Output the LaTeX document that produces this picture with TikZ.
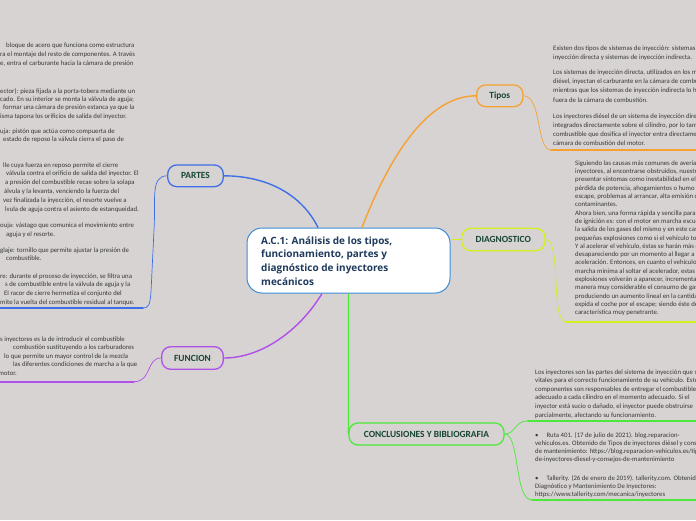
\documentclass[tikz,border=0pt]{standalone}
\usepackage{fontspec}
\setmainfont{Carlito}
\newfontfamily\osans{Open Sans}
\definecolor{bg}{HTML}{D7D3D2}
\definecolor{cblue}{HTML}{3F6FE8}
\definecolor{corange}{HTML}{F5A233}
\definecolor{cyellow}{HTML}{D5EE1F}
\definecolor{cpurple}{HTML}{B04FEA}
\definecolor{cgreen}{HTML}{4CE83A}
\definecolor{cmain}{HTML}{3A8ED8}
\definecolor{ttitle}{HTML}{1E3A5C}
\definecolor{thead}{HTML}{174536}
\definecolor{tbody}{HTML}{383838}
\newcommand\parablock[5]{\foreach \tline [count=\i] in {#5} {\node[txt] (#1-\i) at (#2,{#3+(\i-1)*#4}) {\tline};}}
\begin{document}
\begin{tikzpicture}[x=1pt,y=-1pt,
  txt/.style={font=\fontsize{6.75}{8}\selectfont, text=tbody, inner sep=0pt, anchor=base west},
  ttl/.style={font=\osans\fontsize{10}{12}\bfseries, text=ttitle, inner sep=0pt, anchor=base west},
  head/.style={line width=1.3pt, rounded corners=9pt, font=\fontsize{9.4}{11}\bfseries, text=thead, inner sep=0pt},
  mainbox/.style={draw=cmain, fill=white, line width=1pt, rounded corners=15pt, minimum width=203pt, minimum height=65pt},
  link/.style={line width=1.4pt},
  sub/.style={line width=0.7pt},
  uline/.style={line width=1.7pt, line cap=round}]
\fill[bg] (0,0) rectangle (696,520);
\useasboundingbox (0,0) rectangle (696,520);

% central
\node[mainbox] (root) at (348.5,260.5) {};
\node[ttl] (t1) at (261,244) {A.C.1: Análisis de los tipos,};
\node[ttl] (t2) at (261,257.5) {funcionamiento, partes y};
\node[ttl] (t3) at (261,271.2) {diagnóstico de inyectores};
\node[ttl] (t4) at (261,285) {mecánicos};

% headings
\node[head, draw=corange, minimum width=46.3pt, minimum height=21.7pt] (tipos) at (499.8,95.8) {Tipos};
\node[head, draw=cblue, minimum width=55.6pt, minimum height=21.7pt] (partes) at (195.5,175.8) {PARTES};
\node[head, draw=cpurple, minimum width=61.6pt, minimum height=22.6pt] (funcion) at (192.5,358) {FUNCION};
\node[head, draw=cyellow, minimum width=83.3pt, minimum height=22.4pt] (diag) at (503.3,239.5) {DIAGNOSTICO};
\node[head, draw=cgreen, minimum width=155pt, minimum height=22pt] (concl) at (426.5,434) {CONCLUSIONES Y BIBLIOGRAFIA};

% main connectors
\draw[link, corange] ([xshift=13.5pt]root.north) .. controls (392,150) and (430,96) .. (tipos.west);
\draw[link, cblue] ([xshift=-30.5pt]root.north) .. controls (302,195) and (268,176) .. (partes.east);
\draw[link, cpurple] ([xshift=-26.5pt]root.south) .. controls (300,330) and (262,358) .. (funcion.east);
\draw[link, cyellow] (diag.west -| root.east) -- (diag.west);
\draw[link, cgreen] (root.south) -- (348.5,418) .. controls (348.5,430) .. (concl.west);

% text anchors (underlines)
\coordinate (tiposU) at (551,150);
\coordinate (diagU) at (566,322);
\coordinate (partesU) at (143,308);
\coordinate (funcionU) at (134,381.7);
\coordinate (conclU) at (528,421);
\coordinate (biblioU) at (532,500);

\draw[sub, corange] (tipos.east) .. controls (542,96) and (536,150) .. (tiposU);
\draw[uline, corange] (tiposU) -- (700,150);
\draw[sub, cyellow] (diag.east) .. controls (562,240) and (550,322) .. (diagU);
\draw[uline, cyellow] (diagU) -- (700,322);
\draw[sub, cblue] (partes.west) .. controls (150,176) and (156,200) .. (154,230) -- (151,292) .. controls (150,306) and (148,308) .. (partesU);
\draw[uline, cblue] (partesU) -- (-5,308);
\draw[sub, cpurple] (funcion.west) .. controls (146,358) and (152,381.7) .. (funcionU);
\draw[uline, cpurple] (funcionU) -- (-5,381.7);
\draw[sub, cgreen] (concl.east) .. controls (516,434) and (514,421) .. (conclU);
\draw[uline, cgreen] (conclU) -- (700,421);
\draw[sub, cgreen] (concl.east) .. controls (520,434) and (514,500) .. (biblioU);
\draw[uline, cgreen] (biblioU) -- (700,500);

% Tipos text
\parablock{tp1}{553}{50.3}{9.3}{{Existen dos tipos de sistemas de inyección: sistemas de},{inyección directa y sistemas de inyección indirecta.}}
\parablock{tp2}{553}{74.7}{9.1}{{Los sistemas de inyección directa, utilizados en los motores},{diésel, inyectan el carburante en la cámara de combustión,},{mientras que los sistemas de inyección indirecta lo hacen},{fuera de la cámara de combustión.}}
\parablock{tp3}{553}{118.7}{8.9}{{Los inyectores diésel de un sistema de inyección directa están},{integrados directamente sobre el cilindro, por lo tanto, el},{combustible que dosifica el inyector entra directamente en la},{cámara de combustión del motor.}}

% Diagnostico text
\parablock{dg}{575}{165.3}{8.3}{{Siguiendo las causas más comunes de avería en los},{inyectores, al encontrarse obstruidos, nuestro coche puede},{presentar síntomas como inestabilidad en el ralentí,},{pérdida de potencia, ahogamientos o humo negro por el},{escape, problemas al arrancar, alta emisión de gases},{contaminantes.},{Ahora bien, una forma rápida y sencilla para detectar fallos},{de ignición es: con el motor en marcha escuchar},{la salida de los gases del mismo y en este caso se oirán},{pequeñas explosiones como si el vehículo tosiera.},{Y al acelerar el vehículo, éstas se harán más evidentes,},{desapareciendo por un momento al llegar a la máxima},{aceleración. Entonces, en cuanto el vehículo vuelva a su},{marcha mínima al soltar el acelerador, estas pequeñas},{explosiones volverán a aparecer, incrementando de},{manera muy considerable el consumo de gasolina y},{produciendo un aumento lineal en la cantidad de humo que},{expida el coche por el escape; siendo éste de una},{característica muy penetrante.}}

% Conclusiones text
\parablock{cc}{535}{374.3}{8.54}{{Los inyectores son las partes del sistema de inyección que son},{vitales para el correcto funcionamiento de su vehículo. Estos},{componentes son responsables de entregar el combustible},{adecuado a cada cilindro en el momento adecuado. Si el},{inyector está sucio o dañado, el inyector puede obstruirse},{parcialmente, afectando su funcionamiento.}}
\parablock{bb1}{535}{437}{8.1}{{•\hspace{8pt}Ruta 401. (17 de julio de 2021). blog.reparacion-},{vehiculos.es. Obtenido de Tipos de inyectores diésel y consejos},{de mantenimiento: https://blog.reparacion-vehiculos.es/tipos-},{de-inyectores-diesel-y-consejos-de-mantenimiento}}
\parablock{bb2}{535}{480.3}{8.1}{{•\hspace{8pt}Tallerity. (26 de enero de 2019). tallerity.com. Obtenido de},{Diagnóstico y Mantenimiento De Inyectores:},{https://www.tallerity.com/mecanica/inyectores}}

% Partes text (cut at the left edge)
\parablock{pa1}{0}{47.7}{8.65}{{\hspace*{6pt}bloque de acero que funciona como estructura},{ra el montaje del resto de componentes. A través},{e, entra el carburante hacia la cámara de presión}}
\parablock{pa2}{0}{93}{8.4}{{ector): pieza fijada a la porta-tobera mediante un},{cado. En su interior se monta la válvula de aguja;},{\hspace*{3pt}formar una cámara de presión estanca ya que la},{isma tapona los orificios de salida del inyector.}}
\parablock{pa3}{0}{133}{8.5}{{uja: pistón que actúa como compuerta de},{\hspace*{3pt}estado de reposo la válvula cierra el paso de}}
\parablock{pa4}{0}{167}{8.8}{{\hspace*{3pt}lle cuya fuerza en reposo permite el cierre},{\hspace*{6pt}válvula contra el orificio de salida del inyector. El},{\hspace*{5pt}a presión del combustible recae sobre la solapa},{\hspace*{4pt}álvula y la levanta, venciendo la fuerza del},{\hspace*{3pt}vez finalizada la inyección, el resorte vuelve a},{\hspace*{5pt}lvula de aguja contra el asiento de estanqueidad.}}
\parablock{pa5}{0}{227}{9}{{ouja: vástago que comunica el movimiento entre},{\hspace*{6pt}aguja y el resorte.}}
\parablock{pa6}{0}{252}{8.5}{{glaje: tornillo que permite ajustar la presión de},{\hspace*{6pt}combustible.}}
\parablock{pa7}{0}{278}{8.8}{{re: durante el proceso de inyección, se filtra una},{\hspace*{5pt}s de combustible entre la válvula de aguja y la},{\hspace*{4pt}El racor de cierre hermetiza el conjunto del},{mite la vuelta del combustible residual al tanque.}}

% Funcion text
\parablock{fu}{0}{341}{8.6}{{s inyectores es la de introducir el combustible},{\hspace*{13pt}combustión sustituyendo a los carburadores},{\hspace*{4pt}lo que permite un mayor control de la mezcla},{\hspace*{13pt}las diferentes condiciones de marcha a la que},{\hspace*{-1.5pt}motor.}}
\end{tikzpicture}
\end{document}
